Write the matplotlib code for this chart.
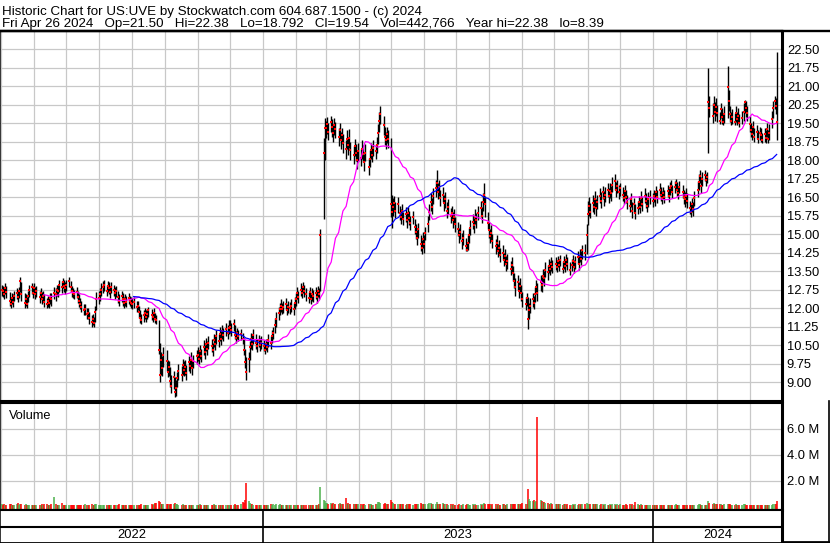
import numpy as np
import pandas as pd
import matplotlib
matplotlib.use("Agg")
import matplotlib.pyplot as plt
import matplotlib.dates as mdates
from matplotlib.lines import Line2D

# daily bars for US:UVE, one line per month, May 2022 .. Apr 2024
close = [
    12.75, 12.70, 12.55, 12.80, 12.65, 12.30, 12.15, 12.40, 12.25, 12.50, 12.60, 12.45, 12.70, 13.10, 12.55, 12.20, 12.35, 12.15, 12.50, 12.75, 12.85, 12.60,
    12.80, 12.55, 12.70, 12.45, 12.60, 12.35, 12.50, 12.25, 12.15, 12.30, 12.20, 12.40, 12.35, 12.60, 12.55, 12.75, 12.70, 12.95, 12.85, 13.05, 12.90, 12.80,
    12.95, 13.10, 12.85, 12.70, 12.60, 12.55, 12.65, 12.45, 12.30, 12.15, 12.05, 11.90, 11.95, 11.75, 11.80, 11.60, 11.45, 11.55, 11.40, 11.85, 12.35,
    12.40, 12.55, 12.75, 12.85, 12.95, 12.70, 12.90, 12.80, 12.65, 12.85, 12.75, 12.60, 12.70, 12.45, 12.30, 12.50, 12.35, 12.20, 12.35, 12.25, 12.40, 12.30, 12.20,
    12.15, 12.25, 12.05, 12.10, 11.85, 11.60, 11.50, 11.70, 11.80, 11.65, 11.75, 11.90, 11.70, 11.65, 11.80, 11.55, 11.50, 10.30, 9.30, 9.90, 9.55, 10.10,
    9.85, 9.40, 9.60, 9.05, 8.85, 9.20, 8.60, 8.75, 9.15, 9.45, 9.30, 9.70, 9.50, 9.60, 9.35, 9.80, 9.65, 9.90, 9.55, 9.85, 10.05,
    10.10, 9.95, 10.25, 10.05, 10.40, 10.20, 10.55, 10.35, 10.60, 10.45, 10.30, 10.70, 10.55, 10.85, 10.65, 10.95, 10.75, 11.05, 10.90, 11.15, 11.00, 11.20,
    11.25, 11.10, 11.35, 10.90, 10.80, 11.00, 10.85, 10.95, 10.75, 10.30, 9.80, 9.40, 9.95, 10.40, 10.75, 10.55, 10.90, 10.60, 10.45, 10.70, 10.50, 10.60,
    10.45, 10.30, 10.55, 10.40, 10.70, 10.60, 10.85, 11.00, 11.30, 11.55, 11.80, 11.95, 12.10, 11.95, 12.05, 12.15, 11.90, 12.05, 12.00, 12.10, 11.95, 12.20,
    12.35, 12.60, 12.45, 12.75, 12.60, 12.85, 12.70, 12.55, 12.40, 12.65, 12.35, 12.55, 12.50, 12.60, 12.45, 12.70, 12.55, 14.95, 18.30, 19.30,
    19.30, 19.45, 19.15, 19.55, 19.35, 19.10, 19.40, 19.25, 18.95, 19.20, 18.80, 19.00, 18.70, 18.45, 18.85, 18.60, 18.90, 18.40, 18.20, 18.55, 18.30, 18.00, 18.35,
    18.10, 18.45, 18.25, 17.90, 18.30, 17.70, 18.05, 18.40, 18.20, 18.50, 18.35, 18.60, 19.10, 19.60, 19.85, 19.40, 18.95, 18.80, 19.05, 18.85,
    16.20, 15.90, 16.10, 16.25, 15.95, 16.20, 15.85, 15.70, 15.95, 15.60, 15.80, 15.55, 15.85, 15.65, 15.45, 15.70, 15.30, 15.10, 14.85, 15.20, 14.60, 14.45, 14.80,
    14.60, 15.05, 15.40, 15.90, 16.30, 16.10, 16.55, 16.85, 17.05, 16.70, 16.90, 16.45, 16.60, 16.25, 16.40, 15.95, 16.10, 15.75, 15.85, 15.55, 15.70, 15.40,
    15.20, 14.95, 15.10, 14.70, 14.85, 14.50, 14.35, 14.65, 14.95, 15.25, 15.50, 15.35, 15.70, 15.55, 15.85, 16.05, 15.75, 16.30, 16.60, 16.20, 15.45,
    15.15, 14.90, 15.05, 14.70, 14.50, 14.65, 14.30, 14.45, 14.15, 14.25, 13.95, 14.10, 13.80, 13.90, 13.60, 13.75, 13.40, 13.10, 12.85, 13.05, 12.70, 12.90, 12.60,
    12.35, 12.15, 12.40, 11.55, 11.90, 12.10, 12.35, 12.20, 12.55, 12.85, 12.60, 13.05, 12.95, 13.30, 13.20, 13.55, 13.45, 13.70, 13.60, 13.80, 13.65,
    13.80, 13.65, 13.90, 13.75, 13.95, 13.60, 13.85, 13.70, 13.95, 13.80, 13.55, 13.75, 13.90, 13.65, 13.85, 14.05, 13.80, 14.10, 14.00, 14.35, 14.25, 14.95,
    15.80, 16.15, 15.90, 16.25, 16.10, 16.40, 16.05, 16.30, 16.55, 16.35, 16.70, 16.45, 16.60, 16.80, 16.55, 16.75, 16.65, 17.00, 17.15, 16.80, 16.95, 16.70,
    16.85, 16.60, 16.45, 16.75, 16.50, 16.30, 16.15, 16.40, 15.95, 16.20, 15.85, 16.05, 16.30, 16.10, 16.45, 16.20, 16.55, 16.35, 16.15, 16.40, 16.50,
    16.35, 16.55, 16.40, 16.70, 16.50, 16.80, 16.60, 16.45, 16.65, 16.50, 16.75, 16.55, 16.85, 16.95, 16.70, 16.90, 17.05, 16.80, 16.65, 16.90, 16.70, 16.50, 16.40,
    16.55, 16.35, 16.05, 15.90, 16.20, 16.00, 16.45, 16.80, 17.10, 17.35, 16.95, 17.25, 17.40, 17.20, 17.30, 20.35, 20.10, 19.80, 20.25, 19.95, 20.15,
    19.90, 19.60, 20.05, 19.75, 19.55, 19.85, 20.95, 20.40, 19.85, 19.60, 19.75, 19.55, 19.90, 19.65, 19.80, 19.50, 19.70, 19.95, 20.35, 20.10, 19.90,
    19.45, 19.20, 19.05, 19.35, 18.95, 19.15, 18.85, 19.10, 19.00, 18.80, 19.05, 18.90, 19.25, 18.85, 19.10, 19.65, 20.10, 20.40, 20.20, 19.54,
]

high = [
    12.95, 12.90, 12.85, 13.00, 12.90, 12.65, 12.45, 12.60, 12.55, 12.70, 12.80, 12.75, 12.85, 13.27, 13.05, 12.60, 12.55, 12.45, 12.70, 12.95, 13.00, 12.90,
    13.00, 12.85, 12.90, 12.70, 12.80, 12.65, 12.70, 12.55, 12.40, 12.50, 12.45, 12.60, 12.60, 12.85, 12.80, 12.95, 12.95, 13.15, 13.10, 13.20, 13.15, 13.05,
    13.15, 13.27, 13.10, 12.90, 12.80, 12.75, 12.85, 12.70, 12.55, 12.40, 12.30, 12.15, 12.15, 12.00, 12.00, 11.85, 11.70, 11.75, 11.65, 12.10, 12.65,
    12.70, 12.80, 13.00, 13.10, 13.15, 12.95, 13.10, 13.05, 12.90, 13.05, 12.95, 12.85, 12.90, 12.70, 12.55, 12.70, 12.60, 12.45, 12.55, 12.50, 12.60, 12.50, 12.45,
    12.40, 12.45, 12.30, 12.30, 12.10, 11.90, 11.75, 11.90, 12.00, 11.90, 11.95, 12.05, 11.95, 11.85, 12.00, 11.80, 11.70, 11.50, 10.60, 10.20, 10.05, 10.40,
    10.30, 9.90, 9.85, 9.60, 9.30, 9.45, 9.20, 9.10, 9.40, 9.75, 9.65, 9.95, 9.85, 9.90, 9.70, 10.05, 9.95, 10.20, 9.90, 10.10, 10.30,
    10.40, 10.25, 10.50, 10.35, 10.70, 10.50, 10.80, 10.65, 10.85, 10.75, 10.60, 10.95, 10.85, 11.10, 10.95, 11.25, 11.05, 11.30, 11.20, 11.40, 11.30, 11.50,
    11.50, 11.40, 11.55, 11.30, 11.05, 11.20, 11.10, 11.15, 11.00, 10.80, 10.35, 10.00, 10.20, 10.65, 11.00, 10.90, 11.15, 10.95, 10.75, 10.90, 10.80, 10.85,
    10.70, 10.55, 10.75, 10.65, 10.95, 10.85, 11.10, 11.25, 11.60, 11.85, 12.05, 12.20, 12.35, 12.20, 12.30, 12.40, 12.15, 12.30, 12.25, 12.35, 12.20, 12.45,
    12.60, 12.85, 12.70, 13.00, 12.85, 13.05, 12.95, 12.80, 12.65, 12.85, 12.60, 12.80, 12.75, 12.85, 12.70, 12.90, 12.80, 15.20, 18.90, 19.70,
    19.60, 19.75, 19.50, 19.80, 19.65, 19.45, 19.70, 19.55, 19.30, 19.50, 19.15, 19.30, 19.05, 18.80, 19.20, 18.95, 19.25, 18.75, 18.55, 18.85, 18.65, 18.40, 18.70,
    18.45, 18.80, 18.60, 18.25, 18.65, 18.10, 18.40, 18.70, 18.55, 18.80, 18.65, 18.95, 19.45, 19.95, 20.20, 19.80, 19.35, 19.15, 19.35, 19.20,
    18.90, 16.60, 16.45, 16.55, 16.30, 16.50, 16.15, 16.00, 16.20, 15.90, 16.10, 15.85, 16.10, 15.95, 15.75, 15.95, 15.60, 15.40, 15.15, 15.45, 14.95, 14.75, 15.10,
    14.95, 15.30, 15.75, 16.20, 16.65, 16.45, 16.85, 17.20, 17.60, 17.05, 17.20, 16.80, 16.90, 16.60, 16.70, 16.30, 16.40, 16.05, 16.15, 15.90, 16.00, 15.70,
    15.50, 15.25, 15.40, 15.05, 15.15, 14.85, 14.65, 14.95, 15.25, 15.55, 15.80, 15.65, 16.00, 15.85, 16.15, 16.35, 16.10, 16.65, 17.05, 16.55, 15.90,
    15.50, 15.20, 15.35, 15.00, 14.80, 14.95, 14.60, 14.75, 14.45, 14.55, 14.25, 14.40, 14.10, 14.20, 13.90, 14.05, 13.70, 13.40, 13.20, 13.35, 13.05, 13.20, 12.95,
    12.65, 12.45, 12.60, 12.45, 12.20, 12.40, 12.60, 12.50, 12.85, 13.15, 13.00, 13.35, 13.25, 13.60, 13.50, 13.85, 13.75, 14.00, 13.90, 14.05, 13.95,
    14.05, 13.95, 14.10, 14.00, 14.15, 13.90, 14.10, 13.95, 14.20, 14.05, 13.85, 14.00, 14.15, 13.95, 14.10, 14.30, 14.10, 14.40, 14.30, 14.55, 14.60, 15.40,
    16.35, 16.50, 16.25, 16.60, 16.45, 16.75, 16.40, 16.60, 16.85, 16.70, 16.95, 16.75, 16.90, 17.05, 16.85, 17.05, 16.95, 17.30, 17.45, 17.10, 17.20, 17.00,
    17.05, 16.90, 16.75, 17.00, 16.80, 16.60, 16.45, 16.65, 16.30, 16.45, 16.20, 16.35, 16.55, 16.40, 16.75, 16.50, 16.85, 16.65, 16.45, 16.70, 16.80,
    16.65, 16.80, 16.70, 16.95, 16.80, 17.05, 16.90, 16.75, 16.90, 16.80, 17.00, 16.85, 17.10, 17.20, 17.00, 17.15, 17.25, 17.10, 16.95, 17.15, 17.00, 16.80, 16.70,
    16.85, 16.65, 16.35, 16.20, 16.45, 16.30, 16.75, 17.15, 17.45, 17.60, 17.30, 17.50, 17.60, 17.45, 17.50, 21.75, 20.60, 20.30, 20.60, 20.35, 20.50,
    20.25, 19.95, 20.30, 20.10, 19.90, 20.20, 21.80, 20.85, 20.20, 19.95, 20.05, 19.90, 20.20, 19.95, 20.10, 19.85, 20.00, 20.30, 20.45, 20.40, 20.20,
    19.80, 19.50, 19.35, 19.60, 19.30, 19.40, 19.20, 19.35, 19.30, 19.10, 19.30, 19.20, 19.50, 19.20, 19.45, 20.00, 20.40, 20.60, 20.50, 22.38,
]

low = [
    12.50, 12.45, 12.35, 12.55, 12.40, 12.10, 12.00, 12.15, 12.05, 12.30, 12.35, 12.25, 12.40, 12.65, 12.30, 12.00, 12.10, 12.00, 12.25, 12.45, 12.55, 12.40,
    12.55, 12.35, 12.45, 12.20, 12.35, 12.15, 12.25, 12.05, 12.00, 12.05, 12.00, 12.15, 12.10, 12.35, 12.30, 12.50, 12.45, 12.65, 12.60, 12.80, 12.65, 12.55,
    12.70, 12.85, 12.65, 12.45, 12.40, 12.35, 12.40, 12.20, 12.05, 11.95, 11.85, 11.70, 11.70, 11.55, 11.55, 11.35, 11.25, 11.30, 11.25, 11.45, 11.90,
    12.15, 12.30, 12.50, 12.60, 12.70, 12.50, 12.65, 12.55, 12.40, 12.60, 12.50, 12.35, 12.45, 12.20, 12.10, 12.25, 12.10, 12.00, 12.10, 12.05, 12.15, 12.10, 12.00,
    11.95, 12.00, 11.85, 11.90, 11.60, 11.40, 11.35, 11.45, 11.55, 11.45, 11.55, 11.65, 11.50, 11.45, 11.55, 11.40, 11.35, 10.15, 9.00, 9.30, 9.25, 9.60,
    9.45, 9.20, 9.25, 8.80, 8.55, 8.70, 8.39, 8.45, 8.80, 9.10, 9.05, 9.30, 9.25, 9.30, 9.10, 9.45, 9.35, 9.60, 9.30, 9.55, 9.75,
    9.85, 9.75, 9.95, 9.80, 10.10, 9.95, 10.25, 10.10, 10.35, 10.20, 10.05, 10.40, 10.30, 10.55, 10.40, 10.65, 10.50, 10.75, 10.65, 10.85, 10.75, 10.95,
    11.00, 10.85, 11.05, 10.75, 10.60, 10.75, 10.65, 10.70, 10.55, 10.10, 9.55, 9.10, 9.40, 9.90, 10.35, 10.30, 10.55, 10.35, 10.20, 10.40, 10.25, 10.35,
    10.25, 10.15, 10.30, 10.20, 10.40, 10.35, 10.60, 10.75, 11.00, 11.25, 11.50, 11.70, 11.85, 11.75, 11.80, 11.90, 11.70, 11.80, 11.75, 11.85, 11.70, 11.95,
    12.10, 12.35, 12.20, 12.50, 12.40, 12.60, 12.45, 12.30, 12.20, 12.40, 12.15, 12.30, 12.25, 12.35, 12.20, 12.45, 12.35, 12.70, 15.60, 18.00,
    18.90, 19.05, 18.80, 19.15, 18.95, 18.75, 19.00, 18.90, 18.55, 18.85, 18.45, 18.65, 18.30, 18.05, 18.45, 18.20, 18.50, 18.00, 17.85, 18.15, 17.95, 17.65, 17.95,
    17.75, 18.05, 17.90, 17.55, 17.95, 17.40, 17.70, 18.05, 17.90, 18.15, 18.05, 18.30, 18.65, 19.15, 19.45, 19.00, 18.60, 18.45, 18.70, 18.50,
    15.70, 15.25, 15.75, 15.90, 15.65, 15.85, 15.55, 15.40, 15.65, 15.35, 15.50, 15.25, 15.55, 15.35, 15.15, 15.40, 15.00, 14.80, 14.55, 14.85, 14.30, 14.20, 14.45,
    14.25, 14.75, 15.10, 15.55, 15.95, 15.80, 16.20, 16.50, 16.70, 16.40, 16.55, 16.15, 16.30, 15.95, 16.05, 15.65, 15.80, 15.45, 15.55, 15.25, 15.40, 15.10,
    14.90, 14.65, 14.80, 14.40, 14.55, 14.30, 14.30, 14.35, 14.65, 14.95, 15.20, 15.05, 15.40, 15.25, 15.55, 15.70, 15.45, 15.95, 16.25, 15.70, 15.20,
    14.85, 14.65, 14.75, 14.45, 14.20, 14.35, 14.05, 14.15, 13.85, 13.95, 13.70, 13.80, 13.50, 13.60, 13.35, 13.45, 13.10, 12.80, 12.50, 12.75, 12.40, 12.60, 12.30,
    12.05, 11.90, 12.10, 11.15, 11.55, 11.80, 12.05, 11.95, 12.25, 12.55, 12.30, 12.70, 12.65, 13.00, 12.90, 13.25, 13.15, 13.40, 13.35, 13.50, 13.40,
    13.55, 13.45, 13.65, 13.50, 13.70, 13.40, 13.60, 13.45, 13.70, 13.55, 13.35, 13.50, 13.65, 13.40, 13.60, 13.80, 13.55, 13.85, 13.75, 14.00, 13.95, 14.20,
    15.35, 15.75, 15.65, 15.90, 15.80, 16.10, 15.75, 16.00, 16.25, 16.05, 16.40, 16.15, 16.30, 16.50, 16.25, 16.45, 16.35, 16.70, 16.80, 16.50, 16.65, 16.40,
    16.55, 16.35, 16.20, 16.45, 16.25, 16.00, 15.90, 16.10, 15.65, 15.90, 15.60, 15.80, 16.00, 15.85, 16.15, 15.95, 16.25, 16.05, 15.90, 16.10, 16.20,
    16.10, 16.30, 16.15, 16.45, 16.25, 16.55, 16.35, 16.20, 16.40, 16.25, 16.50, 16.30, 16.60, 16.70, 16.45, 16.65, 16.80, 16.55, 16.40, 16.65, 16.45, 16.20, 16.10,
    16.25, 16.05, 15.80, 15.70, 15.90, 15.75, 16.15, 16.50, 16.80, 17.05, 16.65, 16.95, 17.15, 16.95, 17.05, 18.30, 19.75, 19.50, 19.85, 19.60, 19.80,
    19.55, 19.45, 19.70, 19.45, 19.40, 19.50, 19.70, 20.00, 19.55, 19.40, 19.45, 19.40, 19.55, 19.40, 19.50, 19.35, 19.45, 19.60, 19.90, 19.75, 19.60,
    19.15, 18.95, 18.80, 19.05, 18.75, 18.85, 18.70, 18.80, 18.75, 18.70, 18.75, 18.70, 18.95, 18.70, 18.80, 19.30, 19.70, 20.05, 19.85, 18.792,
]

# volume in thousands of shares
volume_k = [
    180, 150, 220, 130, 160, 210, 250, 140, 170, 120, 190, 300, 160, 240, 200, 150, 180, 130, 110, 160, 140, 120,
    150, 130, 170, 120, 140, 190, 160, 210, 180, 140, 130, 150, 200, 770, 220, 170, 150, 140, 320, 160, 130, 150,
    140, 120, 160, 130, 110, 150, 140, 170, 120, 130, 160, 140, 180, 150, 120, 170, 210, 160, 140, 190, 220,
    170, 150, 140, 130, 160, 120, 150, 110, 140, 130, 170, 150, 120, 140, 180, 130, 160, 150, 120, 140, 110, 130, 150,
    140, 120, 160, 130, 150, 170, 210, 160, 140, 130, 150, 120, 180, 160, 220, 260, 300, 450, 350, 240, 210, 190,
    180, 200, 160, 220, 250, 190, 260, 210, 180, 170, 150, 190, 160, 140, 170, 150, 130, 160, 140, 150, 170,
    160, 140, 180, 150, 130, 170, 140, 120, 150, 160, 130, 180, 140, 120, 100, 150, 130, 170, 140, 160, 130, 150,
    160, 140, 170, 200, 150, 130, 160, 180, 350, 320, 500, 1850, 420, 260, 210, 180, 150, 140, 120, 160, 110, 130,
    150, 130, 170, 140, 160, 180, 150, 200, 170, 210, 160, 180, 140, 150, 170, 130, 160, 140, 150, 120, 140, 160,
    130, 150, 120, 160, 140, 170, 130, 150, 120, 140, 160, 130, 150, 140, 170, 150, 180, 1500, 520, 460,
    320, 280, 250, 300, 220, 260, 190, 240, 210, 280, 230, 200, 250, 640, 220, 260, 200, 240, 230, 190, 210, 250, 180,
    200, 170, 220, 190, 160, 240, 180, 210, 170, 150, 190, 220, 400, 350, 260, 230, 280, 200, 180, 230,
    540, 380, 260, 220, 240, 200, 180, 210, 190, 230, 170, 200, 180, 220, 190, 160, 210, 240, 200, 180, 260, 220, 190,
    230, 250, 220, 280, 260, 240, 210, 250, 330, 220, 200, 190, 300, 210, 180, 200, 170, 190, 160, 180, 150, 170,
    160, 180, 150, 170, 190, 160, 210, 180, 150, 170, 190, 160, 180, 150, 170, 200, 160, 220, 260, 190, 240,
    210, 190, 170, 200, 180, 160, 190, 170, 150, 180, 200, 160, 170, 190, 210, 180, 220, 200, 240, 190, 210, 180, 230,
    260, 240, 200, 1400, 560, 480, 420, 500, 380, 460, 6900, 520, 440, 380, 350, 300, 280, 250, 220, 260, 240,
    220, 200, 180, 210, 190, 170, 200, 180, 160, 190, 170, 150, 180, 160, 200, 170, 190, 160, 180, 210, 190, 260,
    240, 210, 190, 220, 200, 180, 210, 190, 170, 200, 180, 160, 190, 170, 150, 180, 160, 200, 230, 170, 190, 160,
    180, 160, 150, 170, 190, 160, 180, 150, 200, 170, 350, 190, 160, 150, 180, 140, 160, 150, 130, 150, 170,
    150, 140, 160, 130, 150, 170, 140, 160, 130, 150, 120, 140, 160, 150, 130, 170, 180, 140, 160, 130, 150, 140, 160,
    150, 130, 160, 140, 170, 150, 140, 160, 180, 200, 160, 150, 170, 140, 160, 450, 300, 240, 280, 220, 200,
    200, 180, 210, 170, 160, 190, 250, 230, 180, 160, 170, 150, 180, 160, 170, 150, 160, 180, 210, 170, 160,
    150, 140, 160, 130, 150, 140, 120, 150, 130, 140, 120, 130, 150, 120, 140, 170, 190, 210, 180, 443,
]

header1 = "Historic Chart for US:UVE by Stockwatch.com 604.687.1500 - (c) 2024"
header2 = ("Fri Apr 26 2024   Op=21.50   Hi=22.38   Lo=18.792   Cl=19.54   "
           "Vol=442,766   Year hi=22.38   lo=8.39")
years = ["2022", "2023", "2024"]

plt.rcParams['font.family'] = ['Liberation Sans', 'DejaVu Sans']

W, H = 830, 543
fig = plt.figure(figsize=(W / 100, H / 100), dpi=100)


def box(x0, y0, x1, y1):
    # pixel box (top-left origin) -> figure fraction
    return [x0 / W, 1 - y1 / H, (x1 - x0) / W, (y1 - y0) / H]


n = min(len(close), len(high), len(low), len(volume_k))
dates = pd.bdate_range(end="2024-04-26", periods=n)
x = mdates.date2num(dates)
c = pd.Series(close[:n])
ma_short = c.rolling(30).mean()
ma_long = c.rolling(90).mean()

x_left = mdates.date2num(pd.Timestamp("2022-04-30"))
x_right = mdates.date2num(pd.Timestamp("2024-05-01"))
months = mdates.date2num(pd.date_range("2022-05-01", "2024-04-01", freq="MS"))
grid_c = "#c8c8c8"

# price panel
ax = fig.add_axes(box(0, 31, 782, 401))
ax.set_xlim(x_left, x_right)
ax.set_ylim(8.23, 23.23)
ax.set_xticks(months)
ax.set_xticklabels([])
yt = np.arange(9.0, 22.51, 0.75)
ax.set_yticks(yt)
ax.set_yticklabels([f"{v:.2f}" for v in yt])
ax.yaxis.tick_right()
ax.tick_params(axis='both', length=0, labelsize=9.3, pad=3.5)
ax.grid(True, color=grid_c, lw=0.9)
ax.set_axisbelow(True)
ax.vlines(x, low[:n], high[:n], color='black', lw=1.0)
ax.plot(x, close[:n], 's', color='red', ms=1.5, mew=0)
ax.plot(x, ma_short, color='#ff00ff', lw=0.9)
ax.plot(x, ma_long, color='#0000ff', lw=0.9)
ax.text(9, 46, "US:UVE", transform=None, fontsize=9.3)
ax.spines['top'].set_linewidth(1.7)
ax.spines['right'].set_linewidth(2.2)
ax.spines['bottom'].set_linewidth(1.5)
ax.spines['left'].set_linewidth(1.1)

# volume panel
av = fig.add_axes(box(0, 403, 782, 510))
av.set_xlim(x_left, x_right)
vbot, vtop = -0.25e6, 8.0e6
av.set_ylim(vbot, vtop)
vol = np.array(volume_k[:n]) * 1000
up = np.r_[True, np.diff(close[:n]) >= 0]
colors = np.where(up, '#4cb04c', '#ff0000')
av.vlines(x, vbot, vol, colors=colors, lw=1.1)
av.set_xticks(months)
av.set_xticklabels([])
av.set_yticks([2e6, 4e6, 6e6])
av.set_yticklabels(["2.0 M", "4.0 M", "6.0 M"])
av.yaxis.tick_right()
av.tick_params(axis='both', length=0, labelsize=9.3, pad=3.5)
av.grid(True, color=grid_c, lw=0.9)
av.set_axisbelow(True)
av.text(0.012, 0.93, "Volume", transform=av.transAxes, fontsize=9.2, va='top')
av.spines['top'].set_linewidth(1.5)
av.spines['right'].set_linewidth(2.2)
av.spines['bottom'].set_linewidth(1.5)
av.spines['left'].set_linewidth(1.1)

# year strip
ay = fig.add_axes(box(0, 510, 782, 543))
ay.set_xlim(x_left, x_right)
ay.set_ylim(0, 1)
ay.set_xticks([])
ay.set_yticks([])
ay.axhline(16 / 33, color='black', lw=1.5)
year_starts = mdates.date2num(pd.to_datetime(["2023-01-01", "2024-01-01"]))
ay.vlines(year_starts, 0, 1, color='black', lw=1.2)
edges = [x_left] + list(year_starts) + [x_right]
for i, yr in enumerate(years):
    ay.text((edges[i] + edges[i + 1]) / 2, 0.24, yr, ha='center', va='center', fontsize=9.3)
ay.spines['top'].set_linewidth(1.5)
ay.spines['right'].set_linewidth(2.2)
ay.spines['bottom'].set_linewidth(2.0)
ay.spines['left'].set_linewidth(1.1)

# header
fig.text(2 / W, 1 - 15 / H, header1, fontsize=9.6, va='baseline')
fig.text(2 / W, 1 - 27 / H, header2, fontsize=9.6, va='baseline')
fig.add_artist(Line2D([0, 1], [1 - 30.5 / H, 1 - 30.5 / H], color='black', lw=1.7))
fig.add_artist(Line2D([829 / W, 829 / W], [0, 1 - 401 / H], color='black', lw=1.2))
fig.add_artist(Line2D([782 / W, 1], [1 / H, 1 / H], color='black', lw=2.0))

fig.savefig("out.png", dpi=100)
